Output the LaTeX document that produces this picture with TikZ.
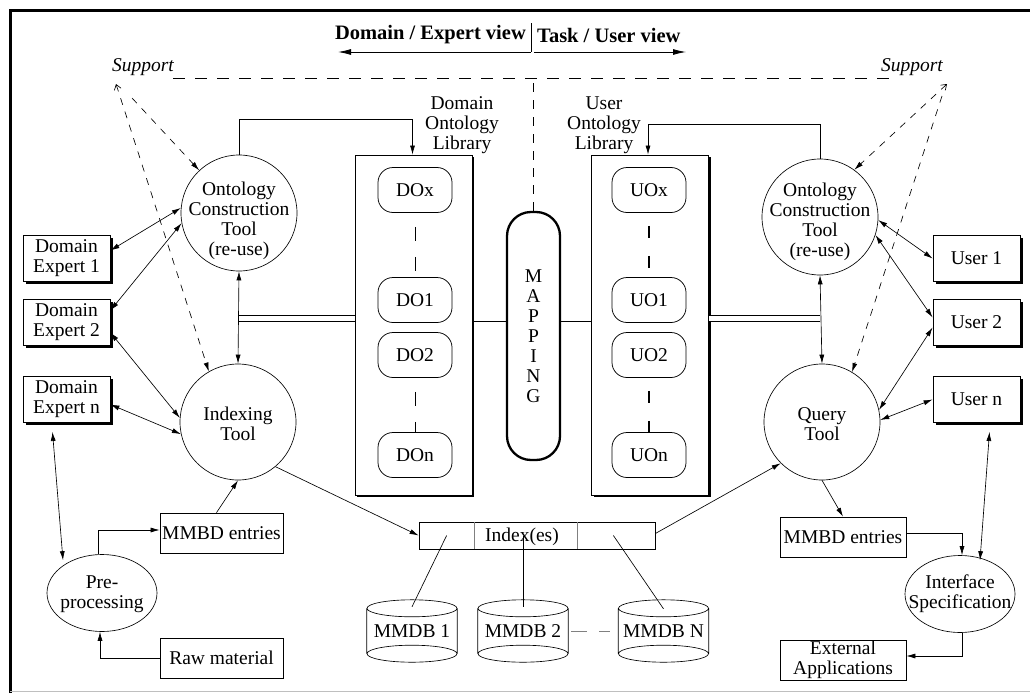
\documentclass[tikz,border=0pt]{standalone}
\usepackage{fontspec}
\setmainfont{Liberation Serif}
\usetikzlibrary{arrows.meta,shadows,calc,shapes.geometric}

% cylinder drawn around an (undrawn) named node: full top and bottom ellipses
\newcommand\drawdrum[1]{%
  \draw[wire] ([yshift=-8.5pt]#1.north) ellipse [x radius=45pt, y radius=8.5pt]
    ([yshift=8.5pt]#1.south) ellipse [x radius=45pt, y radius=8.5pt]
    ([yshift=-8.5pt]#1.north west) -- ([yshift=8.5pt]#1.south west)
    ([yshift=-8.5pt]#1.north east) -- ([yshift=8.5pt]#1.south east);}

\begin{document}
\begin{tikzpicture}[x=1pt,y=-1pt,
  every node/.style={font=\fontsize{19.5}{20}\selectfont, inner sep=0pt},
  wire/.style={line width=0.65pt},
  tip/.style={wire,-{Latex[length=9pt,width=5pt]}},
  bitip/.style={wire,{Latex[length=9pt,width=5pt]}-{Latex[length=9pt,width=5pt]}},
  viewarrow/.style={line width=0.9pt,-{Latex[length=13pt,width=6pt]}},
  sdash/.style={line width=0.65pt, dash pattern=on 7pt off 7pt},
  tool/.style={circle, draw, line width=0.65pt, minimum size=116pt},
  oval/.style={ellipse, draw, line width=0.65pt, minimum width=110pt, minimum height=77pt},
  caption/.style={align=center},
  box/.style={rectangle, draw, line width=0.75pt, minimum width=123pt, minimum height=40pt, align=center},
  actor/.style={rectangle, draw, fill=white, line width=0.85pt, minimum width=87pt, minimum height=46pt, align=center,
    drop shadow={shadow xshift=2.5pt, shadow yshift=-2.5pt, fill=black, opacity=1}},
  library/.style={rectangle, draw, fill=white, line width=0.85pt, minimum width=117pt, minimum height=340pt,
    drop shadow={shadow xshift=2pt, shadow yshift=-1.5pt, fill=black, opacity=1}},
  onto/.style={rectangle, rounded corners=15pt, draw, fill=white, line width=0.75pt, minimum width=74pt, minimum height=45pt},
  thindash/.style={line width=0.75pt, dash pattern=on 14pt off 16pt, dash phase=16pt},
  thickdash/.style={line width=2.6pt, dash pattern=on 12pt off 18pt, dash phase=17pt},
  drum/.style={minimum width=90pt, minimum height=62pt},
]
\useasboundingbox (0,0) rectangle (1030,693);

% outer frame
\draw[line width=3pt] (10,693) -- (10,11) -- (1030,11);
\draw[gray!50, line width=0.6pt] (10,691.5) -- (1030,691.5);

% view headings
\node[anchor=east, font=\fontsize{20.5}{21}\selectfont\bfseries] (domview) at (526,35) {Domain / Expert view};
\node[anchor=west, font=\fontsize{20.5}{21}\selectfont\bfseries] (taskview) at (537,35) {Task / User view};
\coordinate (viewsplit) at (531,52);
\coordinate (viewleft) at (338,52);
\coordinate (viewright) at (686,52);
\draw[line width=0.9pt] (viewsplit) -- ++(0,-29);
\draw[viewarrow] (viewsplit) -- (viewleft);
\draw[viewarrow] ([xshift=3pt]viewsplit) -- (viewright);

% support line
\node[font=\fontsize{19.5}{20}\selectfont\itshape] (supL) at (143,67) {Support};
\node[font=\fontsize{19.5}{20}\selectfont\itshape] (supR) at (912,67) {Support};
\coordinate (dashL) at (173,78);
\coordinate (dashR) at (893,78);
\coordinate (supLtip) at (116,84);
\coordinate (supRtip) at (947,84);
\draw[line width=0.85pt, dash pattern=on 12pt off 10pt] (dashL) -- (dashR);

% libraries
\node[library] (dolib) at (413.5,325) {};
\node[library] (uolib) at (650,325) {};
\node[caption] (dolabel) at (462,125) {Domain\\Ontology\\Library};
\node[caption] (uolabel) at (604,125) {User\\Ontology\\Library};

\node[onto] (dox) at (415,190) {DOx};
\node[onto] (do1) at (415,300) {DO1};
\node[onto] (do2) at (415,355) {DO2};
\node[onto] (don) at (415,455) {DOn};
\node[onto] (uox) at (649,190) {UOx};
\node[onto] (uo1) at (649,300) {UO1};
\node[onto] (uo2) at (649,355) {UO2};
\node[onto] (uon) at (649,455) {UOn};
\draw[thindash] (dox.south) -- (do1.north);
\draw[thindash] (do2.south) -- (don.north);
\draw[thickdash] (uox.south) -- (uo1.north);
\draw[thickdash] (uo2.south) -- (uon.north);

% mapping
\node[draw, line width=2.3pt, rounded corners=24pt, minimum width=53pt, minimum height=248pt, align=center]
  (map) at (533.5,336) {M\\A\\P\\P\\I\\N\\G};
\draw[line width=0.6pt, dash pattern=on 9pt off 8pt] (map.north) -- (map.north |- dashL);
\draw[wire] ([yshift=4pt]dolib.east) -- ([yshift=4pt]dolib.east -| map.west);
\draw[wire] ([yshift=4pt]uolib.west) -- ([yshift=4pt]uolib.west -| map.east);

% tools
\node[tool] (octL) at (239,213) {};
\node[caption] (octLtext) at (239,221) {Ontology\\Construction\\Tool\\(re-use)};
\node[tool] (idxT) at (238,422) {};
\node[caption] (idxTtext) at (238,424) {Indexing\\Tool};
\node[tool] (octR) at (820,217) {};
\node[caption] (octRtext) at (820,222) {Ontology\\Construction\\Tool\\(re-use)};
\node[tool] (qT) at (822,422) {};
\node[caption] (qTtext) at (822,424) {Query\\Tool};

% actors
\node[actor] (de1) at (66.5,258.5) {Domain\\Expert 1};
\node[actor] (de2) at (66.5,322.5) {Domain\\Expert 2};
\node[actor] (den) at (66.5,399.5) {Domain\\Expert n};
\node[actor] (user1) at (976.5,258.5) {User 1};
\node[actor] (user2) at (976.5,322.5) {User 2};
\node[actor] (usern) at (976.5,399.5) {User n};

% left lower part
\node[box] (mmbdL) at (221.5,533) {MMBD entries};
\node[box] (raw) at (221.5,658) {Raw material};
\node[oval] (pre) at (102,593) {};
\node[caption] (pretext) at (102,594) {Pre-\\processing};

% right lower part
\node[box, minimum width=126pt] (mmbdR) at (843,537) {MMBD entries};
\node[box, minimum width=126pt] (extapp) at (843,660) {External\\Applications};
\node[oval] (iface) at (960,594) {};
\node[caption] (ifacetext) at (960,594) {Interface\\Specification};

% index and databases
\node[draw, line width=0.75pt, minimum width=236pt, minimum height=27pt] (idx) at (537,535.5) {};
\node (idxlabel) at (522,537) {Index(es)};
\draw[gray, line width=0.6pt] (474,522) -- (474,549) (577,522) -- (577,549);
\node[drum] (db1) at (412,631) {MMDB 1};
\node[drum] (db2) at (523,631) {MMDB 2};
\node[drum] (dbN) at (663.5,631) {MMDB N};
\drawdrum{db1}
\drawdrum{db2}
\drawdrum{dbN}
\draw[wire] ([xshift=28pt]idx.west) -- ([yshift=-7pt]db1.north);
\draw[wire] (db2.north |- idx.center) -- ([yshift=-7pt]db2.north);
\draw[wire] ([xshift=-42pt]idx.east) -- ([yshift=-9pt]dbN.north);
\draw[gray, line width=0.6pt, dash pattern=on 16pt off 12pt] ([xshift=3pt]db2.east) -- ([xshift=-8pt]dbN.west);

% support links
\draw[sdash, {Straight Barb[length=5pt,width=7pt]}-{Latex[length=9pt,width=5pt]}] (supLtip) -- (idxT.120);
\draw[sdash, -{Latex[length=9pt,width=5pt]}] ([shift={(16pt,-14pt)}]supLtip) -- (octL.133);
\draw[sdash, {Straight Barb[length=5pt,width=7pt]}-{Latex[length=9pt,width=5pt]}] (supRtip) -- (octR.54);
\draw[sdash, -{Latex[length=9pt,width=5pt]}] ([shift={(-5pt,-12pt)}]supRtip) -- (qT.59);

% library links
\draw[tip] (octL.north) -- ++(0,-35) -| ([xshift=-1pt]dolib.north);
\draw[tip] (octR.north) -- ++(0,-34) -| ([xshift=-2pt]uolib.north);
\draw[wire, double, double distance=5.5pt] ([yshift=6.5pt]dolib.west) -- ([yshift=6.5pt]dolib.west -| octL.south);
\draw[wire, double, double distance=5.5pt] ([yshift=6.5pt]uolib.east) -- ([yshift=6.5pt]uolib.east -| octR.south);
\draw[bitip] (octL.south) -- (idxT.north);
\draw[bitip] (octR.south) -- (qT.north);

% domain experts
\draw[bitip] (octL.175) -- ([yshift=8pt]de1.east);
\draw[bitip] (octL.190) -- ([yshift=12pt]de2.east);
\draw[bitip] (idxT.176) -- ([yshift=-10pt]de2.east);
\draw[bitip] (idxT.192) -- ([yshift=-5pt]den.east);
\draw[bitip] ([xshift=-14pt,yshift=-9pt]den.south) -- ([xshift=-39pt,yshift=-6pt]pre.north);

% users
\draw[bitip] (octR.357) -- (user1.west);
\draw[bitip] (octR.342) -- ([yshift=5pt]user2.west);
\draw[bitip] (qT.12) -- ([yshift=-5pt]user2.west);
\draw[bitip] (qT.2) -- (usern.west);
\draw[bitip] ([xshift=13pt,yshift=-9pt]usern.south) -- ([xshift=20pt,yshift=-5pt]iface.north);

% indexing flow
\draw[tip] ([xshift=-4pt]pre.north) |- ([yshift=3pt]mmbdL.west);
\draw[tip] (raw.west) -| ([xshift=-2pt]pre.south);
\draw[tip] ([xshift=-5pt]mmbdL.north) -- (idxT.south);
\draw[tip] (idxT.310) -- (idx.west);
\draw[tip] ([yshift=2pt]idx.east) -- (qT.225);

% query flow
\draw[tip] (qT.south) -- (mmbdR.north);
\draw[tip] ([yshift=4pt]mmbdR.east) -| ([xshift=2pt]iface.north);
\draw[tip] ([xshift=2pt]iface.south) |- ([yshift=4pt]extapp.east);
\end{tikzpicture}
\end{document}
